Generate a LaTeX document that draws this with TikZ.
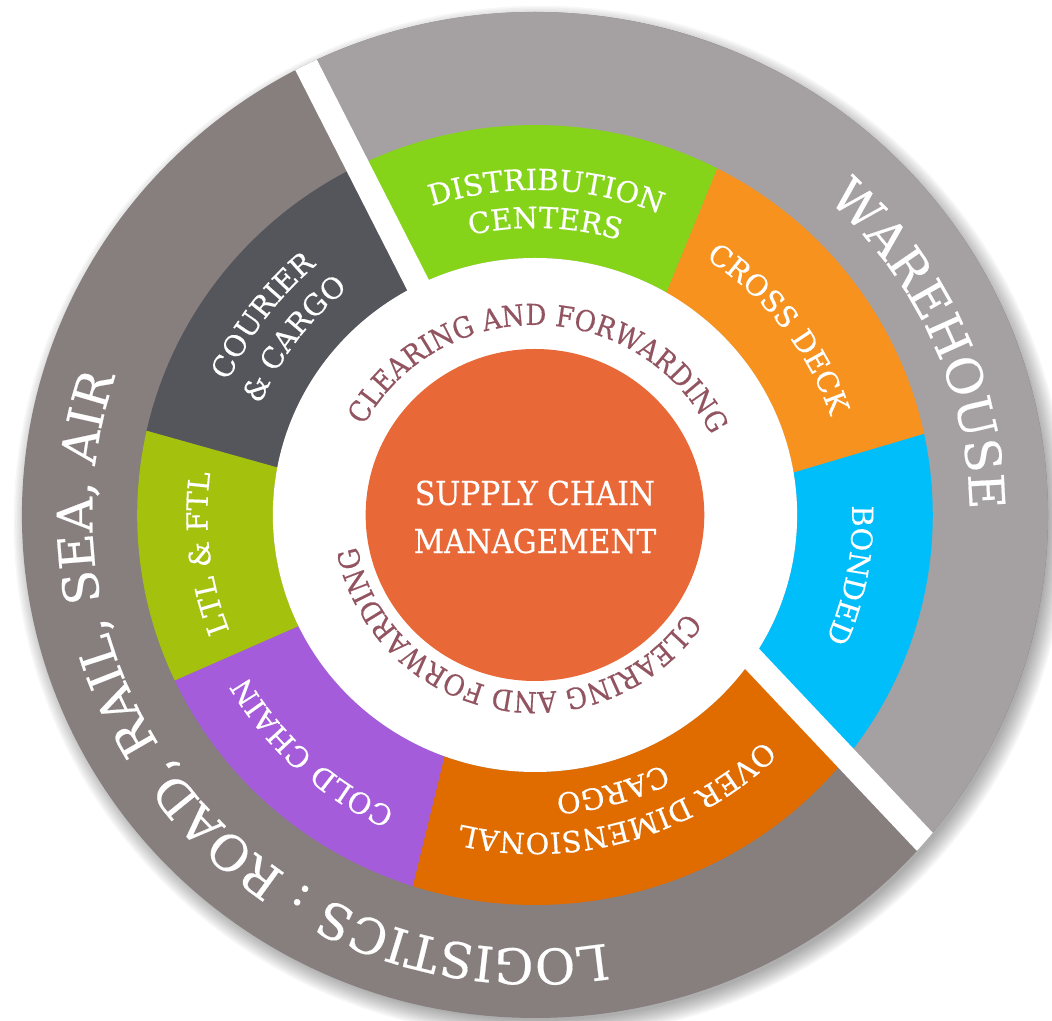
\documentclass[tikz,border=0pt]{standalone}
\usepackage{fontspec}
\setmainfont{DejaVu Serif}[FakeBold=0.4]
\newfontfamily\narrowserif{DejaVu Serif}[FakeStretch=0.9, FakeBold=0.4]
\usetikzlibrary{decorations.text}

\definecolor{logistgray}{HTML}{877E7E}
\definecolor{waregray}{HTML}{A5A0A1}
\definecolor{distgreen}{HTML}{86D41A}
\definecolor{crossorange}{HTML}{F7921E}
\definecolor{bondedblue}{HTML}{00BEFA}
\definecolor{overorange}{HTML}{E06C00}
\definecolor{coldpurple}{HTML}{A55CDA}
\definecolor{ltlgreen}{HTML}{A4C10D}
\definecolor{couriergray}{HTML}{55565C}
\definecolor{scmorange}{HTML}{E96838}
\definecolor{clearred}{HTML}{925460}

\newcommand{\scmfont}{\narrowserif\fontsize{33}{48}\selectfont}
\newcommand{\segfont}{\fontsize{29}{34}\selectfont}
\newcommand{\ringfont}{\narrowserif\fontsize{29}{34}\selectfont}
\newcommand{\rimfont}{\fontsize{49}{60}\selectfont}

\tikzset{
  segment/.style={fill=#1},
  divider/.style={draw=white, line width=24pt},
  scmtext/.style={
    align=center,
    text=white,
    font=\scmfont,
    inner sep=0pt
  },
  curved/.style n args={3}{
    decorate,
    decoration={text along path, text align=center, text color=#1, text={|#2|#3}}
  }
}

\begin{document}
\begin{tikzpicture}[x=1.02pt, y=1pt]

\useasboundingbox (-524.5,-506) rectangle (506.9,515);

% soft shadow
\foreach \k in {1,...,12}
  \fill[black, opacity=0.03] (5,-7) circle[radius=497+\k*1.6];

% outer rim
\fill[logistgray] (0,0) circle[radius=503];
\fill[waregray] (116.5:257) -- (116.5:503) arc[start angle=116.5, end angle=-40.5, radius=503] -- (212.9,-143.9) -- cycle;

% service segments
\fill[segment=distgreen] (116.5:390) arc[start angle=116.5, end angle=62.7, radius=390] -- (59.9:257) arc[start angle=59.9, end angle=116.5, radius=257] -- cycle;
\fill[segment=crossorange] (62.7:390) arc[start angle=62.7, end angle=12, radius=390] -- (9.5:257) arc[start angle=9.5, end angle=59.9, radius=257] -- cycle;
\fill[segment=bondedblue] (12:390) arc[start angle=12, end angle=-38.6, radius=390] -- (-34.1:257) arc[start angle=-34.1, end angle=9.5, radius=257] -- cycle;
\fill[segment=overorange] (-38.6:390) arc[start angle=-38.6, end angle=-107.9, radius=390] -- (-110.2:257) arc[start angle=-110.2, end angle=-34.1, radius=257] -- cycle;
\fill[segment=coldpurple] (-107.9:390) arc[start angle=-107.9, end angle=-154.9, radius=390] -- (-154.4:257) arc[start angle=-154.4, end angle=-110.2, radius=257] -- cycle;
\fill[segment=ltlgreen] (-154.9:390) arc[start angle=-154.9, end angle=-192.5, radius=390] -- (-190.7:257) arc[start angle=-190.7, end angle=-154.4, radius=257] -- cycle;
\fill[segment=couriergray] (-192.5:390) arc[start angle=-192.5, end angle=-243.5, radius=390] -- (-243.5:257) arc[start angle=-243.5, end angle=-190.7, radius=257] -- cycle;

% inner ring and core
\fill[white] (0,0) circle[radius=257];
\fill[scmorange] (0,0) circle[radius=166];
\node[scmtext] (scm) at (0,-2) {SUPPLY CHAIN\\MANAGEMENT};

% dividers
\begin{scope}
  \clip (0,0) circle[radius=503];
  \draw[divider] (116.5:250) -- (116.5:540);
  \draw[divider] (209.5,-140.2) -- (437,-386);
\end{scope}

% ring labels
\path[curved={clearred}{\ringfont}{CLEARING AND FORWARDING}] (168.4:190) arc[start angle=168.4, end angle=8.4, radius=190];
\path[curved={clearred}{\ringfont}{CLEARING AND FORWARDING}] (-21.5:177) arc[start angle=-21.5, end angle=-181.5, radius=177];

% segment labels
\path[curved={white}{\segfont}{DISTRIBUTION}] (148:325) arc[start angle=148, end angle=28, radius=325];
\path[curved={white}{\segfont}{CENTERS}] (148:287) arc[start angle=148, end angle=28, radius=287];
\path[curved={white}{\segfont}{CROSS DECK}] (97.5:306) arc[start angle=97.5, end angle=-22.5, radius=306];
\path[curved={white}{\segfont}{BONDED}] (49.2:311) arc[start angle=49.2, end angle=-70.8, radius=311];
\path[curved={white}{\segfont}{OVER DIMENSIONAL}] (-14:318) arc[start angle=-14, end angle=-134, radius=318];
\path[curved={white}{\segfont}{CARGO}] (-14.3:279) arc[start angle=-14.3, end angle=-134.3, radius=279];
\path[curved={white}{\segfont}{COLD CHAIN}] (-73:325) arc[start angle=-73, end angle=-193, radius=325];
\path[curved={white}{\segfont}{LTL {\&} FTL}] (-113.3:321) arc[start angle=-113.3, end angle=-233.3, radius=321];
\path[curved={white}{\segfont}{COURIER}] (203.7:329) arc[start angle=203.7, end angle=83.7, radius=329];
\path[curved={white}{\segfont}{{\&} CARGO}] (203.7:291) arc[start angle=203.7, end angle=83.7, radius=291];

% rim labels
\path[curved={white}{\rimfont}{WAREHOUSE}] (84:426) arc[start angle=84, end angle=-36, radius=426];
\path[curved={white}{\rimfont}{LOGISTICS : ROAD, RAIL, SEA, AIR}] (-59.75:434) arc[start angle=-59.75, end angle=-219.75, radius=434];

\end{tikzpicture}
\end{document}
